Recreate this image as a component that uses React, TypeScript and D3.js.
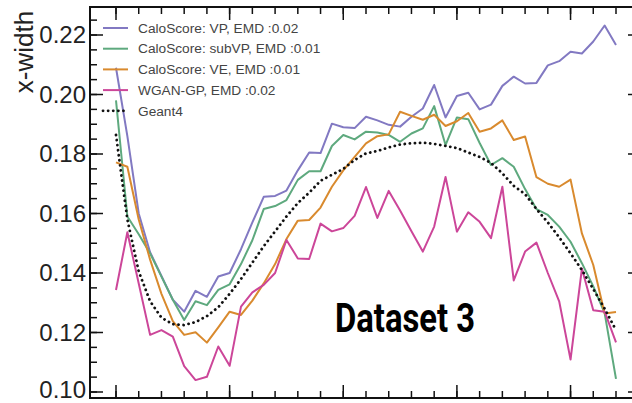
import React from 'react';
import * as d3 from 'd3';

// bin index along x (45 bins)
const caloVP = [
  0.209, 0.186, 0.16, 0.147, 0.139, 0.131, 0.127, 0.134, 0.132, 0.1388,
  0.14, 0.148, 0.157, 0.1656, 0.1659, 0.1677, 0.1745, 0.1805, 0.1803, 0.1902,
  0.189, 0.1887, 0.1925, 0.1913, 0.1898, 0.1892, 0.1925, 0.1953, 0.2032, 0.1923,
  0.1995, 0.2006, 0.195, 0.1966, 0.2029, 0.206, 0.2037, 0.2039, 0.2098, 0.2112,
  0.2144, 0.2138, 0.2178, 0.2232, 0.2166,
];
const caloSubVP = [
  0.198, 0.159, 0.153, 0.1466, 0.1388, 0.131, 0.1242, 0.1305, 0.1292, 0.1343,
  0.1362, 0.143, 0.151, 0.1615, 0.1625, 0.1645, 0.1713, 0.1742, 0.1742, 0.1827,
  0.1864, 0.1849, 0.1875, 0.1872, 0.1864, 0.1841, 0.1869, 0.1886, 0.1961, 0.183,
  0.1923, 0.1917, 0.1837, 0.1763, 0.1786, 0.1757, 0.1682, 0.1615, 0.1595, 0.1556,
  0.1505, 0.1433, 0.1355, 0.1265, 0.1044,
];
const caloVE = [
  0.1772, 0.1757, 0.158, 0.1445, 0.133, 0.1238, 0.1192, 0.1201, 0.1166, 0.1217,
  0.127, 0.1259, 0.1307, 0.1365, 0.143, 0.1514, 0.1576, 0.1578, 0.162, 0.169,
  0.1745, 0.179, 0.1836, 0.186, 0.1866, 0.1942, 0.1928, 0.1915, 0.1932, 0.1894,
  0.191, 0.1938, 0.1875, 0.1886, 0.1913, 0.1847, 0.1859, 0.1722, 0.17, 0.169,
  0.1714, 0.1533, 0.1427, 0.1264, 0.1269,
];
const wganGP = [
  0.1343, 0.1537, 0.1365, 0.1192, 0.1208, 0.1186, 0.1087, 0.104, 0.1051, 0.1153,
  0.1088, 0.1287, 0.1335, 0.136, 0.14, 0.1511, 0.1449, 0.1447, 0.1566, 0.154,
  0.1551, 0.1592, 0.1689, 0.1585, 0.1676, 0.161, 0.154, 0.1472, 0.1556, 0.1723,
  0.1539, 0.1604, 0.1572, 0.1517, 0.169, 0.1375, 0.1472, 0.1502, 0.14, 0.1305,
  0.1109, 0.1415, 0.1275, 0.127, 0.1167,
];
const geant4 = [
  0.1864, 0.158, 0.1405, 0.1305, 0.125, 0.1228, 0.1225, 0.1235, 0.1255, 0.1285,
  0.133, 0.138, 0.1435, 0.149, 0.154, 0.159, 0.1635, 0.167, 0.171, 0.173,
  0.175, 0.178, 0.1802, 0.181, 0.1822, 0.1832, 0.1836, 0.1838, 0.1834, 0.1827,
  0.182, 0.1805, 0.179, 0.177, 0.1735, 0.1693, 0.1665, 0.1615, 0.157, 0.152,
  0.1466, 0.141, 0.1346, 0.128, 0.1208,
];

const seriesNames = [
  'CaloScore: VP, EMD :0.02',
  'CaloScore: subVP, EMD :0.01',
  'CaloScore: VE, EMD :0.01',
  'WGAN-GP, EMD :0.02',
  'Geant4',
];
const yTickLabels = ['0.10', '0.12', '0.14', '0.16', '0.18', '0.20', '0.22'];
const yLabel = 'x-width';
const annotation = 'Dataset 3';

const colors = ['#8279c2', '#5ea97e', '#d98a2e', '#cc4699', '#111'];

export default function App() {
  const width = 632;
  const height = 403;
  const frame = { left: 90, right: 641, top: 7, bottom: 398 };

  const x = d3.scaleLinear().domain([0, 44]).range([116, 616]);
  const y = d3.scaleLinear().domain([0.1, 0.22]).range([392, 35]);

  const line = d3
    .line<number>()
    .x((d, i) => x(i))
    .y((d) => y(d));

  const all = [caloVP, caloSubVP, caloVE, wganGP, geant4];

  const yMajor = yTickLabels.map((t) => +t);
  const yMinor = d3
    .range(0.095, 0.2301, 0.005)
    .filter((v) => y(v) > frame.top + 2 && y(v) < frame.bottom - 2);
  const xMajor = d3.range(0, 45, 10);
  const xMinor = d3.range(0, 47, 2).filter((v) => x(v) < frame.right);

  return (
    <svg width={width} height={height} style={{ display: 'block', background: '#fff' }}>
      <style>{`body{margin:0}`}</style>
      <g stroke="#111" strokeWidth={1.5}>
        {yMinor.map((v) => (
          <g key={'ym' + v}>
            <line x1={frame.left} x2={frame.left + 7} y1={y(v)} y2={y(v)} />
            <line x1={frame.right} x2={frame.right - 7} y1={y(v)} y2={y(v)} />
          </g>
        ))}
        {yMajor.map((v) => (
          <g key={'yM' + v}>
            <line x1={frame.left} x2={frame.left + 13} y1={y(v)} y2={y(v)} />
            <line x1={frame.right} x2={frame.right - 13} y1={y(v)} y2={y(v)} />
          </g>
        ))}
        {xMinor.map((v) => (
          <g key={'xm' + v}>
            <line x1={x(v)} x2={x(v)} y1={frame.bottom} y2={frame.bottom - 7} />
            <line x1={x(v)} x2={x(v)} y1={frame.top} y2={frame.top + 7} />
          </g>
        ))}
        {xMajor.map((v) => (
          <g key={'xM' + v}>
            <line x1={x(v)} x2={x(v)} y1={frame.bottom} y2={frame.bottom - 13} />
            <line x1={x(v)} x2={x(v)} y1={frame.top} y2={frame.top + 13} />
          </g>
        ))}
      </g>
      <rect
        x={frame.left}
        y={frame.top}
        width={frame.right - frame.left}
        height={frame.bottom - frame.top}
        fill="none"
        stroke="#111"
        strokeWidth={2}
      />
      <g fontFamily="'Liberation Sans', Arial, sans-serif" fontSize={24} fill="#222">
        {yTickLabels.map((t) => (
          // lowest label nudged up so it stays inside the picture
          <text key={t} x={86} y={Math.min(y(+t) + 8, 397.5)} textAnchor="end">
            {t}
          </text>
        ))}
        <text
          transform={`translate(33, 52) rotate(-90)`}
          textAnchor="middle"
          fontSize={26}
        >
          {yLabel}
        </text>
      </g>

      {all.map((s, k) => (
        <path
          key={k}
          d={line(s) || ''}
          fill="none"
          stroke={colors[k]}
          strokeWidth={k === 4 ? 2.8 : 2}
          strokeDasharray={k === 4 ? '0.1 5' : undefined}
          strokeLinecap={k === 4 ? 'round' : 'butt'}
          strokeLinejoin="round"
        />
      ))}

      <g fontFamily="'Liberation Sans', Arial, sans-serif" fontSize={13.7} fill="#444">
        {seriesNames.map((n, k) => {
          const ly = 28 + k * 20.7;
          return (
            <g key={n}>
              <line
                x1={103}
                x2={128}
                y1={ly}
                y2={ly}
                stroke={colors[k]}
                strokeWidth={k === 4 ? 2.8 : 2}
                strokeDasharray={k === 4 ? '0.1 5' : undefined}
                strokeLinecap={k === 4 ? 'round' : 'butt'}
              />
              <text x={138} y={ly} dy="0.35em">
                {n}
              </text>
            </g>
          );
        })}
      </g>

      <text
        x={335}
        y={332}
        fontFamily="Roboto, sans-serif"
        fontWeight="bold"
        fontSize={40}
        textLength={140}
        lengthAdjust="spacingAndGlyphs"
        fill="#000"
      >
        {annotation}
      </text>
    </svg>
  );
}
